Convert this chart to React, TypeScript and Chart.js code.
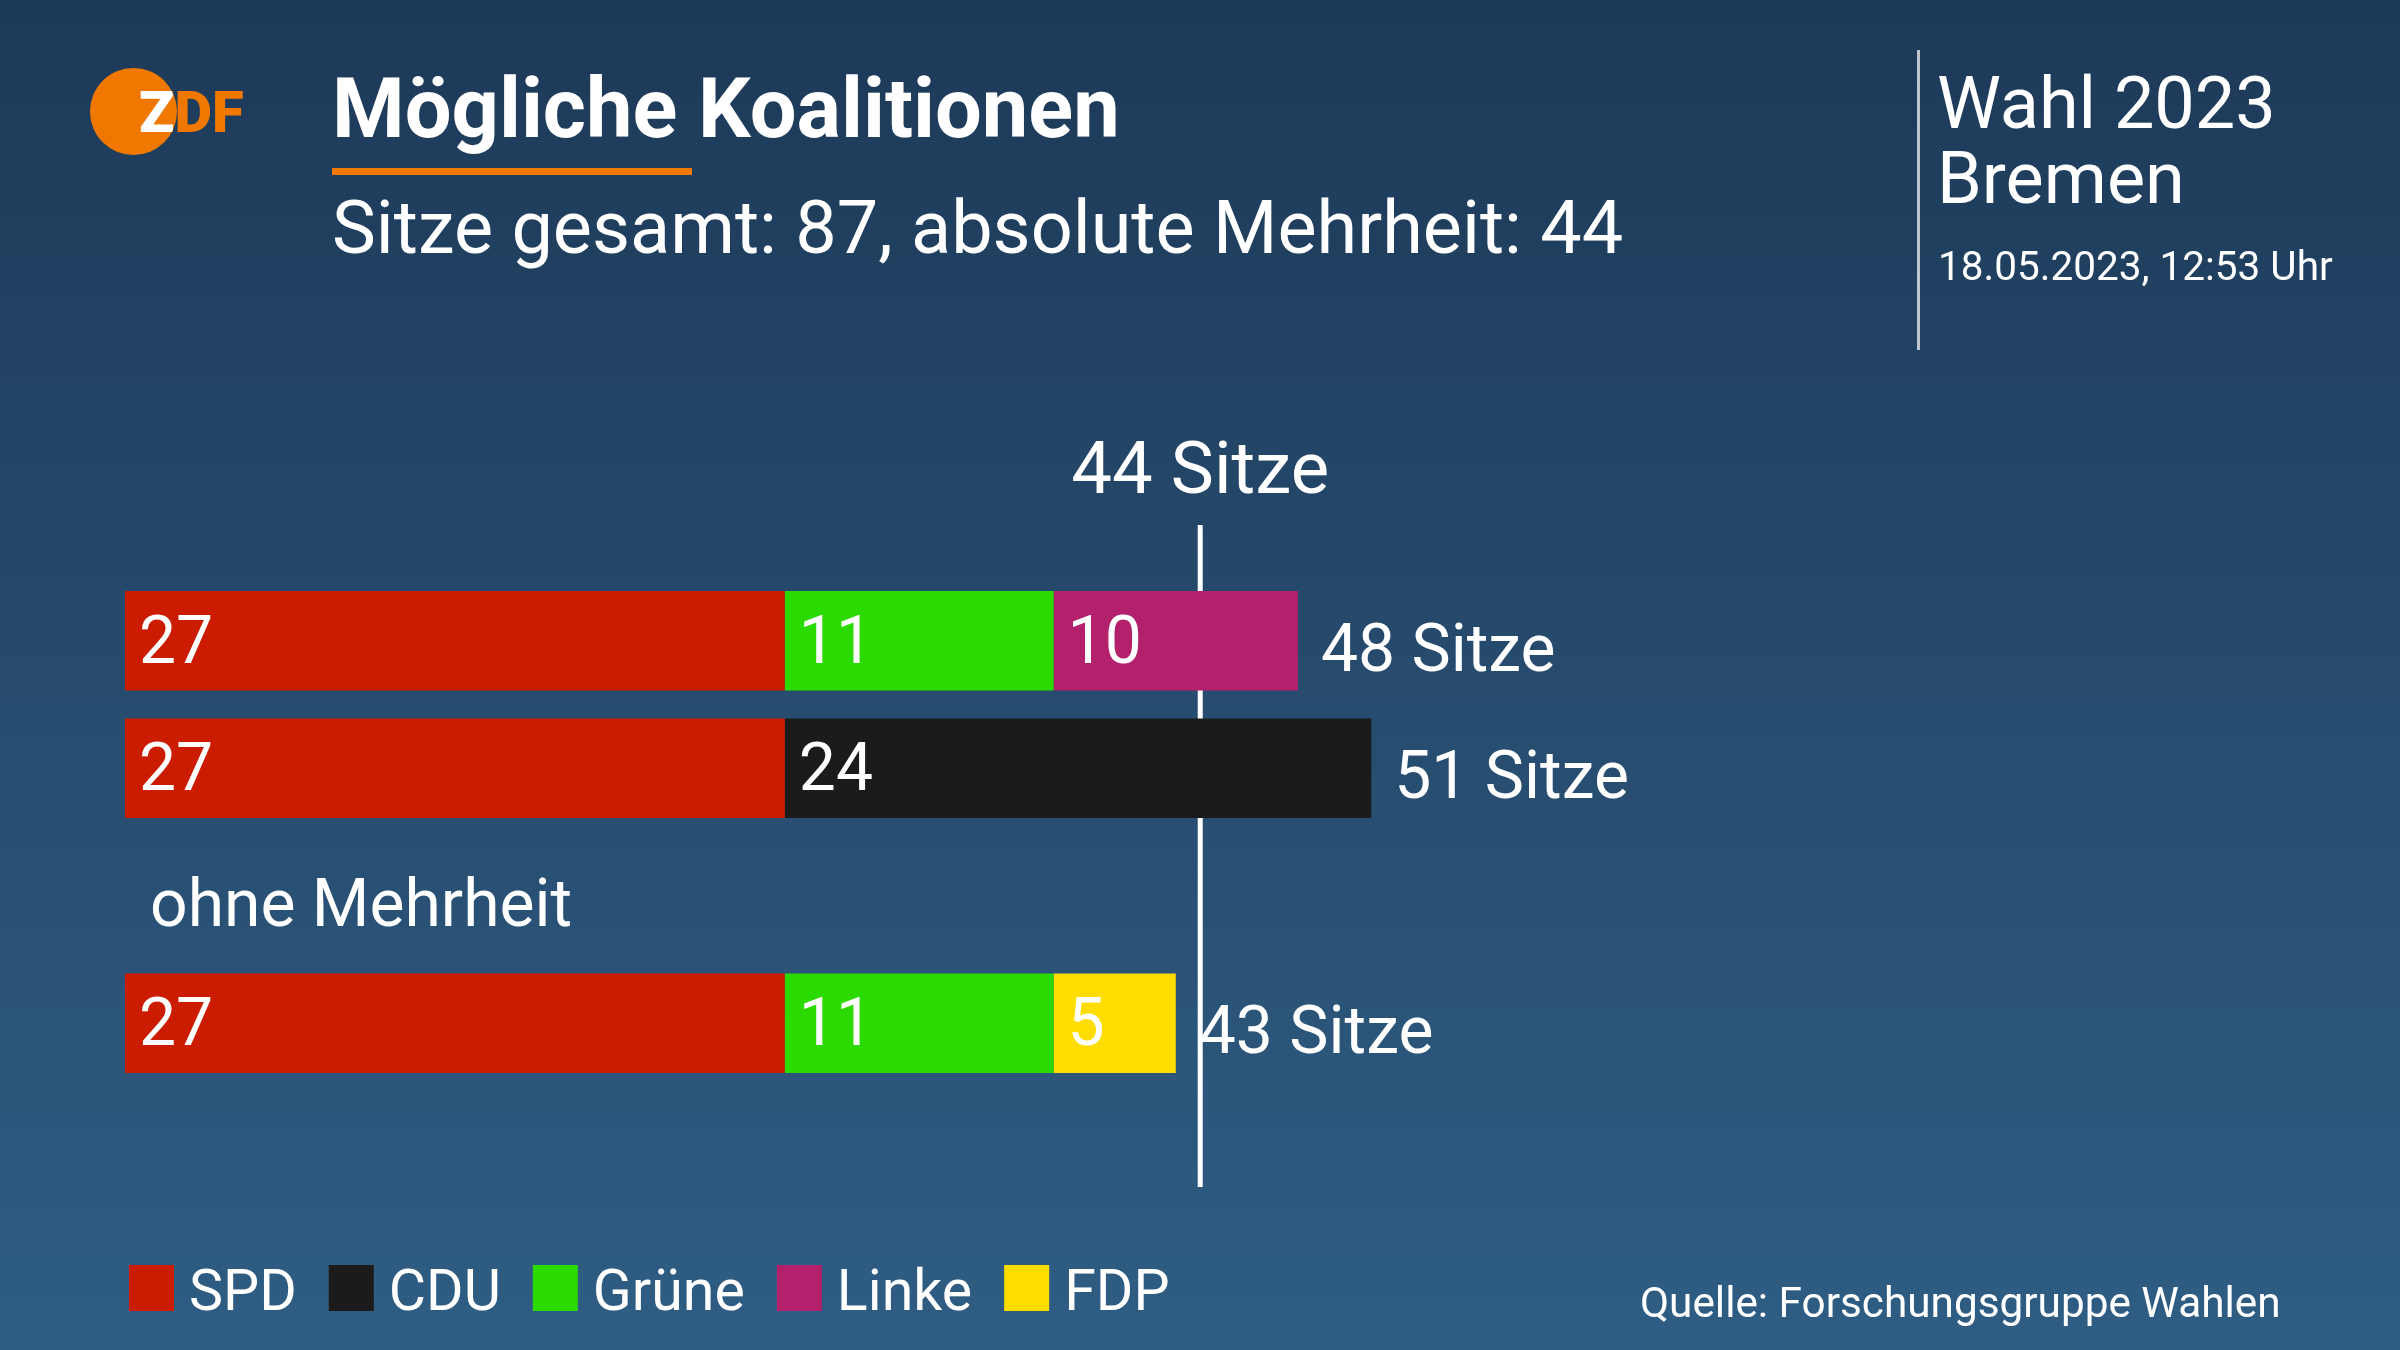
import React, { useEffect, useRef } from "react";
import { Chart, registerables } from "chart.js";

Chart.register(...registerables);

// ---------- data ----------
const ROW_LABELS = ["SPD + Grüne + Linke", "SPD + CDU", "ohne Mehrheit", "SPD + Grüne + FDP"];
const ROW_HEADINGS = ["", "", "ohne Mehrheit", ""];
const PARTIES = ["SPD", "CDU", "Grüne", "Linke", "FDP"];
const PARTY_COLORS = ["#cc1c00", "#1b1b1b", "#2bda00", "#b3206b", "#ffdd00"];
const SPD_SEATS = [27, 27, null, 27];
const CDU_SEATS = [null, 24, null, null];
const GRUENE_SEATS = [11, null, null, 11];
const LINKE_SEATS = [10, null, null, null];
const FDP_SEATS = [null, null, null, 5];
const SEAT_SERIES = [SPD_SEATS, CDU_SEATS, GRUENE_SEATS, LINKE_SEATS, FDP_SEATS];
const TOTAL_SEATS = 87;
const MAJORITY_SEATS = 44;

const TITLE = "Mögliche Koalitionen";
const SUBTITLE = `Sitze gesamt: ${TOTAL_SEATS}, absolute Mehrheit: ${MAJORITY_SEATS}`;
const ELECTION = "Wahl 2023";
const REGION = "Bremen";
const TIMESTAMP = "18.05.2023, 12:53 Uhr";
const SOURCE = "Quelle: Forschungsgruppe Wahlen";
const SEATS_WORD = "Sitze";

// ---------- styling ----------
const FAMILY = "Roboto, 'Liberation Sans', sans-serif";
const font = (size: number, weight: string = "normal") => `${weight} ${size}px ${FAMILY}`;
const ORANGE = "#f07800";

const decorPlugin = {
  id: "decor",
  beforeDraw(chart: any) {
    const { ctx, width, height } = chart;
    ctx.save();
    const g = ctx.createLinearGradient(0, 0, 0, height);
    g.addColorStop(0, "#1d3958");
    g.addColorStop(1, "#2f5d83");
    ctx.fillStyle = g;
    ctx.fillRect(0, 0, width, height);
    ctx.restore();
  },
  beforeDatasetsDraw(chart: any) {
    const { ctx } = chart;
    const x = chart.scales.x.getPixelForValue(MAJORITY_SEATS);
    ctx.save();
    ctx.fillStyle = "#ffffff";
    ctx.fillRect(x - 2.5, 525, 5, 662);
    ctx.font = font(72.5);
    ctx.textAlign = "center";
    ctx.textBaseline = "alphabetic";
    ctx.fillText(`${MAJORITY_SEATS} ${SEATS_WORD}`, x, 493);
    ctx.restore();
  },
  afterDatasetsDraw(chart: any) {
    const { ctx, chartArea } = chart;
    const xs = chart.scales.x;
    const ys = chart.scales.y;
    ctx.save();
    ctx.fillStyle = "#ffffff";
    ctx.textBaseline = "alphabetic";
    ctx.textAlign = "left";
    ctx.font = font(66);
    chart.data.datasets.forEach((ds: any, di: number) => {
      const meta = chart.getDatasetMeta(di);
      meta.data.forEach((el: any, i: number) => {
        const v = ds.data[i];
        if (v == null) return;
        const p = el.getProps(["x", "y", "base"], true);
        const left = Math.min(p.x, p.base);
        ctx.fillText(String(v), left + 14, p.y + 22);
      });
    });
    ROW_LABELS.forEach((_, i) => {
      const sum = SEAT_SERIES.reduce((s, arr) => s + ((arr[i] as number) ?? 0), 0);
      const yc = ys.getPixelForValue(i);
      if (sum > 0) {
        ctx.fillText(`${sum} ${SEATS_WORD}`, xs.getPixelForValue(sum) + 23, yc + 30);
      }
      if (ROW_HEADINGS[i]) {
        ctx.fillText(ROW_HEADINGS[i], chartArea.left + 25, yc + 30);
      }
    });
    ctx.restore();
  },
  afterDraw(chart: any) {
    const { ctx } = chart;
    ctx.save();
    // logo
    const cx = 133.5, cy = 111.5, r = 43.5;
    ctx.fillStyle = ORANGE;
    ctx.beginPath();
    ctx.arc(cx, cy, r, 0, Math.PI * 2);
    ctx.fill();
    ctx.font = font(58, "900");
    ctx.textBaseline = "alphabetic";
    ctx.textAlign = "left";
    ctx.fillText("ZDF", 139, 132);
    ctx.save();
    ctx.beginPath();
    ctx.arc(cx, cy, r, 0, Math.PI * 2);
    ctx.clip();
    ctx.fillStyle = "#ffffff";
    ctx.fillText("ZDF", 139, 132);
    ctx.restore();

    // title
    ctx.fillStyle = "#ffffff";
    ctx.font = font(83, "bold");
    ctx.fillText(TITLE, 332, 137);
    ctx.fillStyle = ORANGE;
    ctx.fillRect(332, 168, 360, 7);
    ctx.fillStyle = "#ffffff";
    ctx.font = font(73.8);
    ctx.fillText(SUBTITLE, 332, 253);

    // right block
    ctx.fillStyle = "rgba(255,255,255,0.7)";
    ctx.fillRect(1917, 50, 3, 300);
    ctx.fillStyle = "#ffffff";
    ctx.font = font(72);
    ctx.fillText(ELECTION, 1937, 128);
    ctx.fillText(REGION, 1937, 203);
    ctx.font = font(40.5);
    ctx.fillText(TIMESTAMP, 1938, 280);

    // legend
    ctx.font = font(57.3);
    let x = 129;
    PARTIES.forEach((p, i) => {
      ctx.fillStyle = PARTY_COLORS[i];
      ctx.fillRect(x, 1265, 45, 46);
      ctx.fillStyle = "#ffffff";
      const tx = x + 45 + 15;
      ctx.fillText(p, tx, 1310);
      x = tx + ctx.measureText(p).width + 32;
    });

    // source
    ctx.font = font(42.3);
    ctx.fillText(SOURCE, 1640, 1317);
    ctx.restore();
  },
};

export default function App() {
  const ref = useRef<HTMLCanvasElement | null>(null);
  useEffect(() => {
    document.body.style.margin = "0";
    const canvas = ref.current;
    if (!canvas) return;
    const chart = new Chart(canvas, {
      type: "bar",
      data: {
        labels: ROW_LABELS,
        datasets: PARTIES.map((p, i) => ({
          label: p,
          data: SEAT_SERIES[i],
          backgroundColor: PARTY_COLORS[i],
          borderWidth: 0,
          stack: "coalition",
          categoryPercentage: 1,
          barPercentage: 0.78,
        })),
      },
      options: {
        indexAxis: "y",
        responsive: false,
        animation: false,
        devicePixelRatio: 1,
        events: [],
        layout: { padding: { left: 125, right: 149, top: 577, bottom: 263 } },
        scales: {
          x: { stacked: true, min: 0, max: TOTAL_SEATS, display: false },
          y: { stacked: true, display: false },
        },
        plugins: {
          legend: { display: false },
          tooltip: { enabled: false },
          title: { display: false },
        },
      },
      plugins: [decorPlugin],
    } as any);
    return () => chart.destroy();
  }, []);
  return (
    <div style={{ width: 2400, height: 1350 }}>
      <canvas ref={ref} width={2400} height={1350} style={{ display: "block", width: 2400, height: 1350 }} />
    </div>
  );
}
